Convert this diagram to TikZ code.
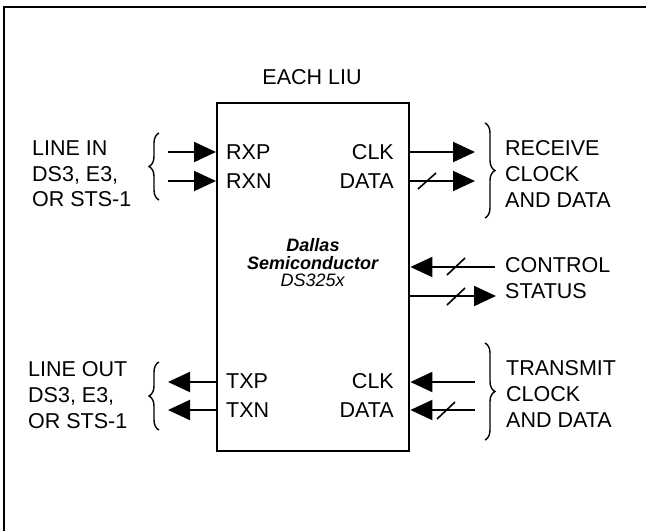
\documentclass[tikz,border=0pt]{standalone}
\usepackage{fontspec}
\setmainfont{Liberation Sans}
\usetikzlibrary{arrows.meta,decorations.pathreplacing}
\begin{document}
\begin{tikzpicture}[x=1pt,y=-1pt,
  lbl/.style={font=\fontsize{21.5}{25.7}\selectfont, inner sep=0pt},
  blk/.style={lbl, align=left, anchor=west},
  arr/.style={line width=2pt, -{Triangle[length=22pt,width=20pt]}},
  brc/.style={line width=1.4pt, decorate, decoration={brace, amplitude=10pt}},
  slashline/.style={line width=1.6pt}]
\useasboundingbox (0,0) rectangle (646,531);
\draw[line width=2pt] (4,531) -- (4,7) -- (646,7);
% chip box
\node[draw, line width=2.4pt, minimum width=192pt, minimum height=348pt, inner sep=0pt, anchor=north west] (box) at (216,102) {};
\node[lbl] (title) at (312,77) {EACH LIU};
\node[font=\fontsize{18}{17.5}\selectfont, align=center, inner sep=0pt] (chip) at (313,263)
  {\textbf{\textit{Dallas}}\\\textbf{\textit{Semiconductor}}\\\textit{DS325x}};
% port labels
\node[lbl, anchor=west] (rxp) at (226,152) {RXP};
\node[lbl, anchor=west] (rxn) at (226,181) {RXN};
\node[lbl, anchor=east] (rclk) at (394,152) {CLK};
\node[lbl, anchor=east] (rdata) at (394,181) {DATA};
\node[lbl, anchor=west] (txp) at (226,381) {TXP};
\node[lbl, anchor=west] (txn) at (226,410) {TXN};
\node[lbl, anchor=east] (tclk) at (394,381) {CLK};
\node[lbl, anchor=east] (tdata) at (394,410) {DATA};
% side texts
\node[blk] (linein) at (32,174) {LINE IN\\DS3, E3,\\OR STS-1};
\node[blk] (recv) at (505,174) {RECEIVE\\CLOCK\\AND DATA};
\node[blk] (ctl) at (505,265) {CONTROL};
\node[blk] (sts) at (505,291) {STATUS};
\node[blk] (lineout) at (28,395) {LINE OUT\\DS3, E3,\\OR STS-1};
\node[blk] (xmit) at (506,394) {TRANSMIT\\CLOCK\\AND DATA};
% arrow ends
\coordinate (inP) at (168,152);
\coordinate (inN) at (168,181);
\coordinate (rcE) at (475,152);
\coordinate (rdE) at (475,181);
\coordinate (ctE) at (495,267);
\coordinate (stE) at (496,296);
\coordinate (tcE) at (475,382);
\coordinate (tdE) at (475,410);
\coordinate (outP) at (168,382);
\coordinate (outN) at (168,410);
% arrows
\draw[arr] (inP) -- (box.west |- inP);
\draw[arr] (inN) -- (box.west |- inN);
\draw[arr] (box.east |- rcE) -- (rcE);
\draw[arr] (box.east |- rdE) -- (rdE);
\draw[arr] (ctE) -- (box.east |- ctE);
\draw[arr] (box.east |- stE) -- (stE);
\draw[arr] (tcE) -- (box.east |- tcE);
\draw[arr] (tdE) -- (box.east |- tdE);
\draw[arr] (box.west |- outP) -- (outP);
\draw[arr] (box.west |- outN) -- (outN);
% bus slashes
\draw[slashline] (418,189) -- (436,173);
\draw[slashline] (447,275) -- (465,258);
\draw[slashline] (447,305) -- (465,288);
\draw[slashline] (437,419) -- (455,402);
% braces
\draw[brc] (159,200) -- (159,133);
\draw[brc] (485,123) -- (485,218);
\draw[brc] (159,430) -- (159,362);
\draw[brc] (485,343) -- (485,440);
\end{tikzpicture}
\end{document}
